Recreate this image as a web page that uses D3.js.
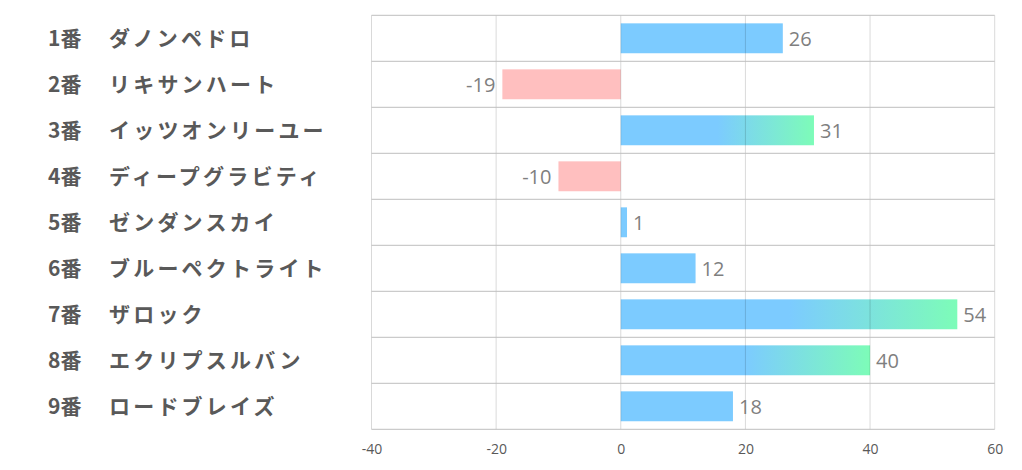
<!DOCTYPE html>
<html><head><meta charset="utf-8">
<script src="https://cdn.jsdelivr.net/npm/d3@7"></script>
<style>body{margin:0;background:#fff}svg{display:block}</style>
</head><body>
<svg id="chart" width="1022" height="470"></svg>
<script>
const numbers = ["1番","2番","3番","4番","5番","6番","7番","8番","9番"];
const names = ["ダノンペドロ","リキサンハート","イッツオンリーユー","ディープグラビティ","ゼンダンスカイ","ブルーペクトライト","ザロック","エクリプスルバン","ロードブレイズ"];
const values = [26,-19,31,-10,1,12,54,40,18];
const tickValues = [-40,-20,0,20,40,60];

const svg = d3.select("#chart");
const pLeft = 371.5, pRight = 994.7, pTop = 15.3, pBottom = 429.3;
const x = d3.scaleLinear().domain([-40,60]).range([pLeft,pRight]);
const y = d3.scaleBand().domain(d3.range(names.length)).range([pTop,pBottom]).paddingInner(0.35).paddingOuter(0.175);
const rowH = (pBottom-pTop)/names.length;

const defs = svg.append("defs");
const grad = defs.append("linearGradient").attr("id","g").attr("x1","0").attr("x2","1").attr("y1","0").attr("y2","0");
grad.append("stop").attr("offset","0.5").attr("stop-color","#7ccbff");
grad.append("stop").attr("offset","1").attr("stop-color","#7dfcb8");

// bars
svg.append("g").selectAll("rect").data(values).join("rect")
  .attr("x", d => x(Math.min(0,d)))
  .attr("width", d => Math.abs(x(d)-x(0)))
  .attr("y", (d,i) => y(i))
  .attr("height", y.bandwidth())
  .attr("fill", d => d < 0 ? "#ffbfbf" : (d >= 30 ? "url(#g)" : "#7ccbff"));

// vertical gridlines
svg.append("g").selectAll("line").data(tickValues).join("line")
  .attr("x1", d => x(d)).attr("x2", d => x(d))
  .attr("y1", pTop).attr("y2", pBottom)
  .attr("stroke","#000").attr("stroke-opacity",0.15).attr("stroke-width",1);

// horizontal row lines
svg.append("g").selectAll("line").data(d3.range(names.length+1)).join("line")
  .attr("x1", pLeft).attr("x2", pRight)
  .attr("y1", i => pTop + i*rowH).attr("y2", i => pTop + i*rowH)
  .attr("stroke","#bfbfbf").attr("stroke-width",1);

// axis
const axis = d3.axisBottom(x).tickValues(tickValues).tickFormat(d => String(d)).tickSize(0).tickPadding(15);
const ag = svg.append("g").attr("transform",`translate(0,${pBottom})`).call(axis);
ag.select(".domain").remove();
ag.selectAll("text").attr("font-family","'Open Sans', sans-serif").attr("font-size",14).attr("fill","#595959");

// value labels
svg.append("g").selectAll("text").data(values).join("text")
  .attr("x", d => d < 0 ? x(d)-7 : x(d)+6)
  .attr("y", (d,i) => y(i) + y.bandwidth()/2)
  .attr("dy","0.36em")
  .attr("text-anchor", d => d < 0 ? "end" : "start")
  .attr("font-family","'Open Sans', sans-serif").attr("font-size",20).attr("fill","#7f7f7f")
  .text(d => String(d));

// category labels
const lg = svg.append("g").attr("font-family","'Noto Sans CJK JP', sans-serif").attr("font-weight","bold").attr("font-size",21).attr("fill","#595959");
lg.selectAll("text.num").data(numbers).join("text").attr("class","num")
  .attr("x",48).attr("y",(d,i)=> pTop + (i+0.5)*rowH).attr("dy","0.36em").text(d=>d);
lg.selectAll("text.name").data(names).join("text").attr("class","name")
  .attr("x",109).attr("y",(d,i)=> pTop + (i+0.5)*rowH).attr("dy","0.36em")
  .attr("letter-spacing","3.2px").text(d=>d);
</script>
</body></html>
